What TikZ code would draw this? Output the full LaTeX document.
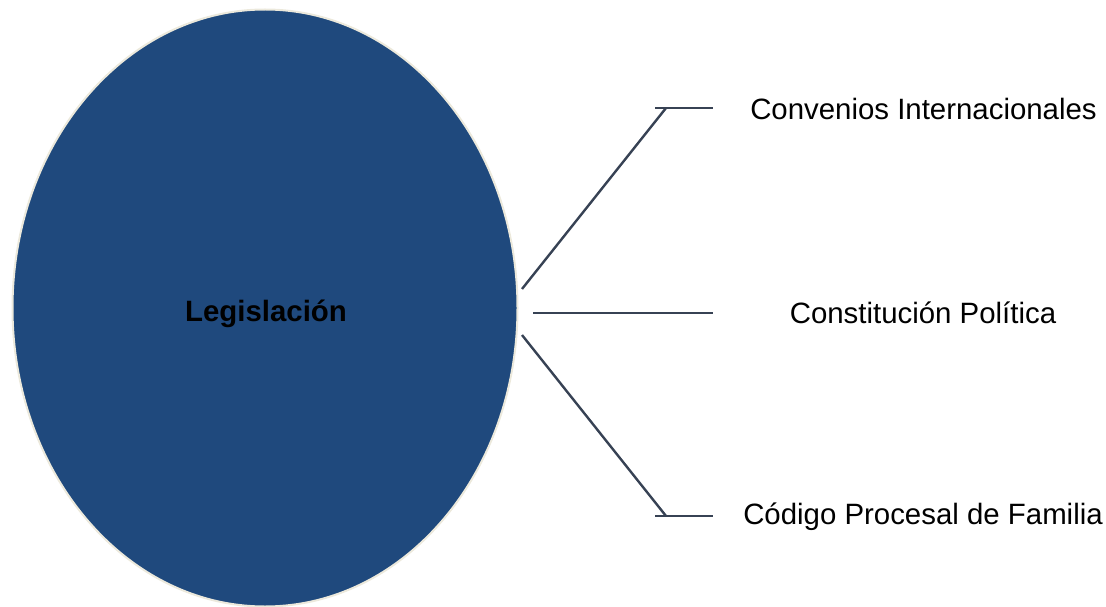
\documentclass[tikz,border=0pt]{standalone}
\usepackage{fontspec}
\setmainfont{Liberation Sans}
\usetikzlibrary{positioning, shapes.geometric}
\definecolor{mylegblue}{RGB}{31, 73, 125}
\definecolor{mylegrim}{RGB}{236, 233, 220}
\definecolor{mylinkgray}{RGB}{55, 66, 84}

\begin{document}
\begin{tikzpicture}[x=1pt, y=-1pt, font=\fontsize{29.4}{34}\selectfont,
  branch/.style={mylinkgray, line width=2.4pt},
  leaf/.style={anchor=center, inner sep=0pt}]
  \useasboundingbox (0,0) rectangle (1106,607);
  % Central ellipse
  \node[ellipse, fill=mylegblue, draw=mylegrim, line width=2pt,
        minimum width=505, minimum height=597, inner sep=0pt] (leg) at (265,308) {};
  \node[leaf, font=\fontsize{29.4}{34}\selectfont\bfseries] (legtxt) at (266,314) {Legislación};
  % Branch texts
  \node[leaf] (conv) at (923.5,109) {Convenios Internacionales};
  \node[leaf] (const) at (923,313) {Constitución Política};
  \node[leaf] (cod) at (923,517) {Código Procesal de Familia};
  % Branch points
  \coordinate (up0) at (522,289);
  \coordinate (up1) at (666,108);
  \coordinate (upa) at (655,108);
  \coordinate (upb) at (713,108);
  \coordinate (mid0) at (533,313);
  \coordinate (mid1) at (713,313);
  \coordinate (dn0) at (522,335);
  \coordinate (dn1) at (666,516);
  \coordinate (dna) at (655,516);
  \coordinate (dnb) at (713,516);
  % Connectors
  \draw[branch] (up0) -- (up1);
  \draw[branch] (upa) -- (upb);
  \draw[branch] (mid0) -- (mid1);
  \draw[branch] (dn0) -- (dn1);
  \draw[branch] (dna) -- (dnb);
\end{tikzpicture}
\end{document}
